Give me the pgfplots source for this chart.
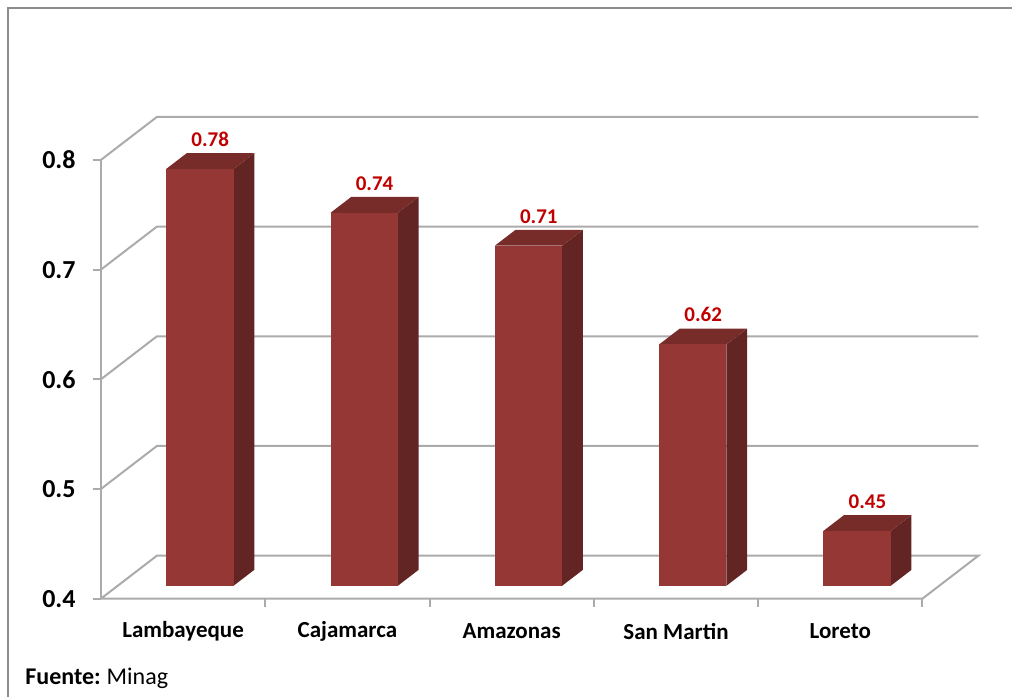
\documentclass[border=0pt]{standalone}
\usepackage{fontspec}
\setmainfont{Carlito}
\usepackage{pgfplots}
\pgfplotsset{compat=1.18}

\definecolor{barfront}{HTML}{953735}
\definecolor{barside}{HTML}{632523}
\definecolor{bartop}{HTML}{772C2A}
\definecolor{wallgray}{HTML}{ABABAB}
\definecolor{labred}{HTML}{C00000}
\definecolor{framegray}{HTML}{8C8C8C}

\begin{document}
\begin{tikzpicture}
\begin{axis}[
    hide axis, clip=false,
    x={(82.2pt,0pt)}, y={(28pt,21.5pt)}, z={(0pt,548.75pt)},
    xmin=0, xmax=5, ymin=0, ymax=1, zmin=0.4, zmax=0.8,
]
% back wall grid
\addplot3[wallgray, line width=1pt] coordinates {(0,0,0.4) (0,1,0.4) (5,1,0.4) (5,0,0.4) (0,0,0.4)};
\addplot3[wallgray, line width=1pt] coordinates {(0,0,0.5) (0,1,0.5) (5,1,0.5)};
\addplot3[wallgray, line width=1pt] coordinates {(0,0,0.6) (0,1,0.6) (5,1,0.6)};
\addplot3[wallgray, line width=1pt] coordinates {(0,0,0.7) (0,1,0.7) (5,1,0.7)};
\addplot3[wallgray, line width=1pt] coordinates {(0,0,0.8) (0,1,0.8) (5,1,0.8)};
% front value axis and ticks
\addplot3[wallgray, line width=1pt] coordinates {(0,0,0.4) (0,0,0.8)};
\addplot3[wallgray, line width=1pt] coordinates {(-0.05,0,0.4) (0,0,0.4)};
\addplot3[wallgray, line width=1pt] coordinates {(-0.05,0,0.5) (0,0,0.5)};
\addplot3[wallgray, line width=1pt] coordinates {(-0.05,0,0.6) (0,0,0.6)};
\addplot3[wallgray, line width=1pt] coordinates {(-0.05,0,0.7) (0,0,0.7)};
\addplot3[wallgray, line width=1pt] coordinates {(-0.05,0,0.8) (0,0,0.8)};
\addplot3[wallgray, line width=1pt] coordinates {(1,0,0.4) (1,0,0.3925)};
\addplot3[wallgray, line width=1pt] coordinates {(2,0,0.4) (2,0,0.3925)};
\addplot3[wallgray, line width=1pt] coordinates {(3,0,0.4) (3,0,0.3925)};
\addplot3[wallgray, line width=1pt] coordinates {(4,0,0.4) (4,0,0.3925)};
\addplot3[wallgray, line width=1pt] coordinates {(5,0,0.4) (5,0,0.3925)};

% bars: side, top, front faces
% Lambayeque 0.78
\addplot3[fill=barside, draw=none] coordinates {(0.705,0.3,0.4) (0.705,0.67,0.4) (0.705,0.67,0.78) (0.705,0.3,0.78)};
\addplot3[fill=bartop, draw=none] coordinates {(0.295,0.3,0.78) (0.705,0.3,0.78) (0.705,0.67,0.78) (0.295,0.67,0.78)};
\addplot3[fill=barfront, draw=none] coordinates {(0.295,0.3,0.4) (0.705,0.3,0.4) (0.705,0.3,0.78) (0.295,0.3,0.78)};
% Cajamarca 0.74
\addplot3[fill=barside, draw=none] coordinates {(1.705,0.3,0.4) (1.705,0.67,0.4) (1.705,0.67,0.74) (1.705,0.3,0.74)};
\addplot3[fill=bartop, draw=none] coordinates {(1.295,0.3,0.74) (1.705,0.3,0.74) (1.705,0.67,0.74) (1.295,0.67,0.74)};
\addplot3[fill=barfront, draw=none] coordinates {(1.295,0.3,0.4) (1.705,0.3,0.4) (1.705,0.3,0.74) (1.295,0.3,0.74)};
% Amazonas 0.71
\addplot3[fill=barside, draw=none] coordinates {(2.705,0.3,0.4) (2.705,0.67,0.4) (2.705,0.67,0.71) (2.705,0.3,0.71)};
\addplot3[fill=bartop, draw=none] coordinates {(2.295,0.3,0.71) (2.705,0.3,0.71) (2.705,0.67,0.71) (2.295,0.67,0.71)};
\addplot3[fill=barfront, draw=none] coordinates {(2.295,0.3,0.4) (2.705,0.3,0.4) (2.705,0.3,0.71) (2.295,0.3,0.71)};
% San Martin 0.62
\addplot3[fill=barside, draw=none] coordinates {(3.705,0.3,0.4) (3.705,0.67,0.4) (3.705,0.67,0.62) (3.705,0.3,0.62)};
\addplot3[fill=bartop, draw=none] coordinates {(3.295,0.3,0.62) (3.705,0.3,0.62) (3.705,0.67,0.62) (3.295,0.67,0.62)};
\addplot3[fill=barfront, draw=none] coordinates {(3.295,0.3,0.4) (3.705,0.3,0.4) (3.705,0.3,0.62) (3.295,0.3,0.62)};
% Loreto 0.45
\addplot3[fill=barside, draw=none] coordinates {(4.705,0.3,0.4) (4.705,0.67,0.4) (4.705,0.67,0.45) (4.705,0.3,0.45)};
\addplot3[fill=bartop, draw=none] coordinates {(4.295,0.3,0.45) (4.705,0.3,0.45) (4.705,0.67,0.45) (4.295,0.67,0.45)};
\addplot3[fill=barfront, draw=none] coordinates {(4.295,0.3,0.4) (4.705,0.3,0.4) (4.705,0.3,0.45) (4.295,0.3,0.45)};

% value labels
\begin{scope}[every node/.style={font=\bfseries\fontsize{10.5}{12}\selectfont, text=labred, anchor=south, inner sep=0pt, yshift=7pt}]
\node at (axis cs:0.5,0.485,0.78) {0.78};
\node at (axis cs:1.5,0.485,0.74) {0.74};
\node at (axis cs:2.5,0.485,0.71) {0.71};
\node at (axis cs:3.5,0.485,0.62) {0.62};
\node at (axis cs:4.5,0.485,0.45) {0.45};
\end{scope}
% tick labels
\begin{scope}[every node/.style={font=\bfseries\fontsize{13}{14}\selectfont, anchor=east, inner sep=0pt, xshift=-12.5pt}]
\node at (axis cs:0,0,0.4) {0.4};
\node at (axis cs:0,0,0.5) {0.5};
\node at (axis cs:0,0,0.6) {0.6};
\node at (axis cs:0,0,0.7) {0.7};
\node at (axis cs:0,0,0.8) {0.8};
\end{scope}
% category labels
\begin{scope}[every node/.style={font=\bfseries\fontsize{11.5}{14}\selectfont, anchor=center, inner sep=0pt, yshift=-16.5pt}]
\node at (axis cs:0.5,0,0.4) {Lambayeque};
\node at (axis cs:1.5,0,0.4) {Cajamarca};
\node at (axis cs:2.5,0,0.4) {Amazonas};
\node at (axis cs:3.5,0,0.4) {San Martin};
\node at (axis cs:4.5,0,0.4) {Loreto};
\end{scope}
\coordinate (O) at (axis cs:0,0,0.4);
\end{axis}
\begin{scope}[shift={(O)}]
\path (-50.5pt,-49pt) rectangle (456pt,299.5pt);
\draw[framegray, line width=0.6pt] (-46.5pt,-49pt) -- (-46.5pt,295.5pt) -- (456pt,295.5pt);
\node[anchor=west, inner sep=0pt, font=\fontsize{12}{14}\selectfont] at (-38pt,-40pt) {\textbf{Fuente:}\hspace{3pt}Minag};
\end{scope}
\end{tikzpicture}
\end{document}
